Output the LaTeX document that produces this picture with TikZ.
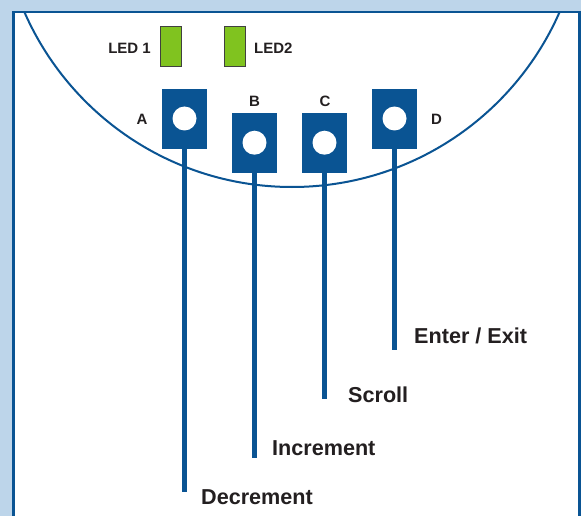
\documentclass[tikz,border=0pt]{standalone}
\usepackage{fontspec}
\setmainfont{Liberation Sans}
\definecolor{bgblue}{HTML}{BDD5EA}
\definecolor{dblue}{HTML}{0A5493}
\definecolor{ledgreen}{HTML}{80C31F}
\definecolor{txt}{HTML}{231F20}
\begin{document}
\begin{tikzpicture}[x=1pt,y=-1pt,
  button/.style={rectangle,fill=dblue,draw=none,minimum width=45pt,minimum height=60pt,inner sep=0pt},
  hole/.style={circle,fill=white,draw=none,minimum size=24pt,inner sep=0pt},
  led/.style={rectangle,fill=ledgreen,draw=black!75,line width=0.8pt,minimum width=21pt,minimum height=40pt,inner sep=0pt},
  stem/.style={draw=dblue,line width=4.3pt},
  smalllbl/.style={font=\bfseries\fontsize{15}{15}\selectfont,text=txt,inner sep=0pt},
  biglbl/.style={font=\bfseries\fontsize{21.6}{21.6}\selectfont,text=txt,inner sep=0pt,anchor=base west}]
\useasboundingbox (0,0) rectangle (581,516);
\fill[bgblue] (0,0) rectangle (581,516);
\fill[white] (13.5,12.2) rectangle (579.3,516);
\draw[dblue,line width=2.4pt] (13.5,516) -- (13.5,12.2) -- (579.3,12.2) -- (579.3,516);
\begin{scope}
  \clip (14.7,13.4) rectangle (578.1,516);
  \draw[dblue,line width=2pt] (292,-105) circle[radius=292pt];
\end{scope}
% LEDs
\node[led] (led1) at (170.5,46) {};
\node[led] (led2) at (234.5,46) {};
\node[smalllbl,anchor=base east] (led1l) at (151,54) {LED 1};
\node[smalllbl,anchor=base west] (led2l) at (254,54) {LED2};
% buttons
\node[button] (btnA) at (184.5,119) {};
\node[button] (btnB) at (254.5,143) {};
\node[button] (btnC) at (324.5,143) {};
\node[button] (btnD) at (394.5,119) {};
\node[hole] (holeA) at (184.5,118.5) {};
\node[hole] (holeB) at (254.5,142.7) {};
\node[hole] (holeC) at (324.5,142.7) {};
\node[hole] (holeD) at (394.5,118.5) {};
\node[smalllbl,anchor=base] (lA) at (142,125) {A};
\node[smalllbl,anchor=base] (lB) at (254.5,107) {B};
\node[smalllbl,anchor=base] (lC) at (325,107) {C};
\node[smalllbl,anchor=base] (lD) at (436.5,125) {D};
% stems
\coordinate (endA) at (184.5,491.7);
\coordinate (endB) at (254.5,457.7);
\coordinate (endC) at (324.5,399);
\coordinate (endD) at (394.5,350);
\draw[stem] (btnA.south) -- (endA);
\draw[stem] (btnB.south) -- (endB);
\draw[stem] (btnC.south) -- (endC);
\draw[stem] (btnD.south) -- (endD);
% function labels
\node[biglbl] (fD) at (414,343.5) {Enter / Exit};
\node[biglbl] (fC) at (348,402.7) {Scroll};
\node[biglbl] (fB) at (272,455) {Increment};
\node[biglbl] (fA) at (201,504.3) {Decrement};
\end{tikzpicture}
\end{document}
